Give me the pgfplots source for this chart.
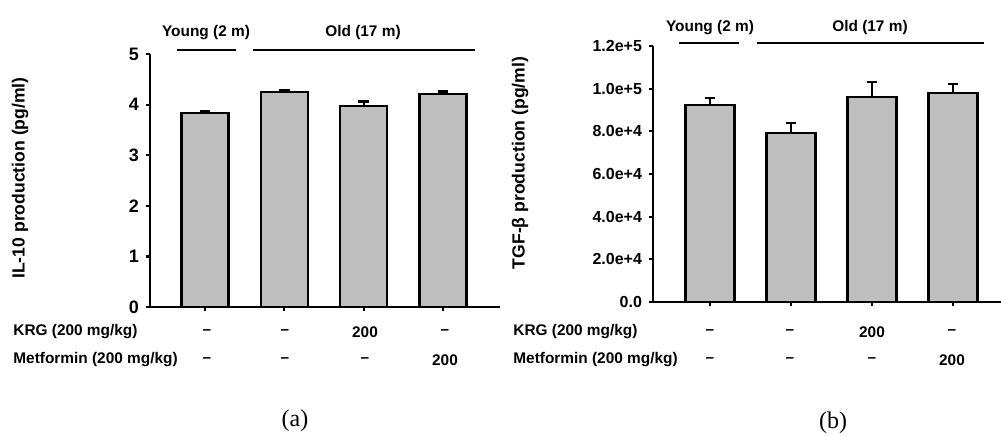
\documentclass[border=0pt]{standalone}
\usepackage{fontspec}
\setmainfont{Liberation Sans}
\newfontfamily\capfont{Liberation Serif}
\usepackage{pgfplots}
\pgfplotsset{compat=1.18}

% 1 px of the reference = 0.5pt
\pgfplotsset{
  panel/.style={
    scale only axis,
    axis x line=bottom, axis y line=left,
    axis line style={-, line width=1.3pt},
    tick align=outside,
    major tick length=2pt,
    tick style={line width=1.1pt, black},
    xtick={0,1,2,3}, xticklabels={},
    ybar, bar shift=0pt,
    /pgf/number format/assume math mode=true,
    y tick label style={font=\bfseries\fontsize{8}{9}\selectfont},
    clip=false,
  },
  barstyle/.style={
    fill=black!25, draw=black, line width=1.2pt,
    error bars/.cd, y dir=plus, y explicit,
    error bar style={line width=1.1pt, black},
    error mark options={rotate=90, mark size=2.6pt, line width=1.1pt, black},
  },
}

\begin{document}
\begin{tikzpicture}
\path[use as bounding box] (0,0) rectangle (500.5pt,217.5pt);

% (a) IL-10
\begin{axis}[panel,
  at={(75pt,64pt)}, anchor=south west,
  width=175pt, height=126.5pt,
  xmin=-0.694, xmax=3.72,
  ymin=0, ymax=5, ytick={0,1,2,3,4,5},
  y tick label style={font=\bfseries\fontsize{9}{10}\selectfont},
  bar width=23.5pt]
\addplot[barstyle] coordinates {
  (0,3.84) +- (0,0.04)
  (1,4.25) +- (0,0.04)
  (2,3.97) +- (0,0.09)
  (3,4.21) +- (0,0.05)
};
\end{axis}

% (b) TGF-beta
\begin{axis}[panel,
  at={(326.5pt,66.5pt)}, anchor=south west,
  width=174pt, height=128pt,
  xmin=-0.704, xmax=3.59,
  ymin=0, ymax=120000, ytick={0,20000,40000,60000,80000,100000,120000},
  yticklabels={0.0,2.0e+4,4.0e+4,6.0e+4,8.0e+4,1.0e+5,1.2e+5},
  scaled y ticks=false,
  bar width=24.5pt]
\addplot[barstyle] coordinates {
  (0,92300) +- (0,3300)
  (1,79200) +- (0,4600)
  (2,96100) +- (0,7000)
  (3,97900) +- (0,4200)
};
\end{axis}

\begin{scope}[every node/.style={font=\bfseries\fontsize{7.7}{9}\selectfont, inner sep=0pt}]
% group headers
\node at (103pt,201pt) {Young (2 m)};
\node at (181.5pt,201pt) {Old (17 m)};
\draw[line width=1.2pt] (88.5pt,192.5pt) -- (118pt,192.5pt);
\draw[line width=1.2pt] (126.5pt,192.5pt) -- (237.5pt,192.5pt);
\node at (355pt,203.5pt) {Young (2 m)};
\node at (435pt,203.5pt) {Old (17 m)};
\draw[line width=1.2pt] (339.5pt,196pt) -- (369.5pt,196pt);
\draw[line width=1.2pt] (378.5pt,196pt) -- (492pt,196pt);

% treatment rows
\node[anchor=west] at (6.5pt,51.5pt) {KRG (200 mg/kg)};
\node[anchor=west] at (6.5pt,37.5pt) {Metformin (200 mg/kg)};
\node at (103.5pt,51.5pt) {–}; \node at (142.5pt,51.5pt) {–};
\node at (182.5pt,51.5pt) {200}; \node at (222.5pt,51.5pt) {–};
\node at (103.5pt,37.5pt) {–}; \node at (142.5pt,37.5pt) {–};
\node at (182.5pt,37.5pt) {–}; \node at (222.5pt,37.5pt) {200};

\node[anchor=west] at (256.5pt,51.5pt) {KRG (200 mg/kg)};
\node[anchor=west] at (256.5pt,37.5pt) {Metformin (200 mg/kg)};
\node at (355pt,51.5pt) {–}; \node at (395pt,51.5pt) {–};
\node at (436pt,51.5pt) {200}; \node at (476pt,51.5pt) {–};
\node at (355pt,37.5pt) {–}; \node at (395pt,37.5pt) {–};
\node at (436pt,37.5pt) {–}; \node at (476pt,37.5pt) {200};

% y labels
\node[rotate=90, font=\bfseries\fontsize{8.8}{10}\selectfont] at (10pt,128.5pt) {IL-10 production (pg/ml)};
\node[rotate=90, font=\bfseries\fontsize{8.8}{10}\selectfont] at (260pt,136pt) {TGF-β production (pg/ml)};
\end{scope}

% panel captions
\node[font=\capfont\fontsize{12}{14}\selectfont] at (147.5pt,7pt) {(a)};
\node[font=\capfont\fontsize{12}{14}\selectfont] at (416.5pt,6pt) {(b)};
\end{tikzpicture}
\end{document}
